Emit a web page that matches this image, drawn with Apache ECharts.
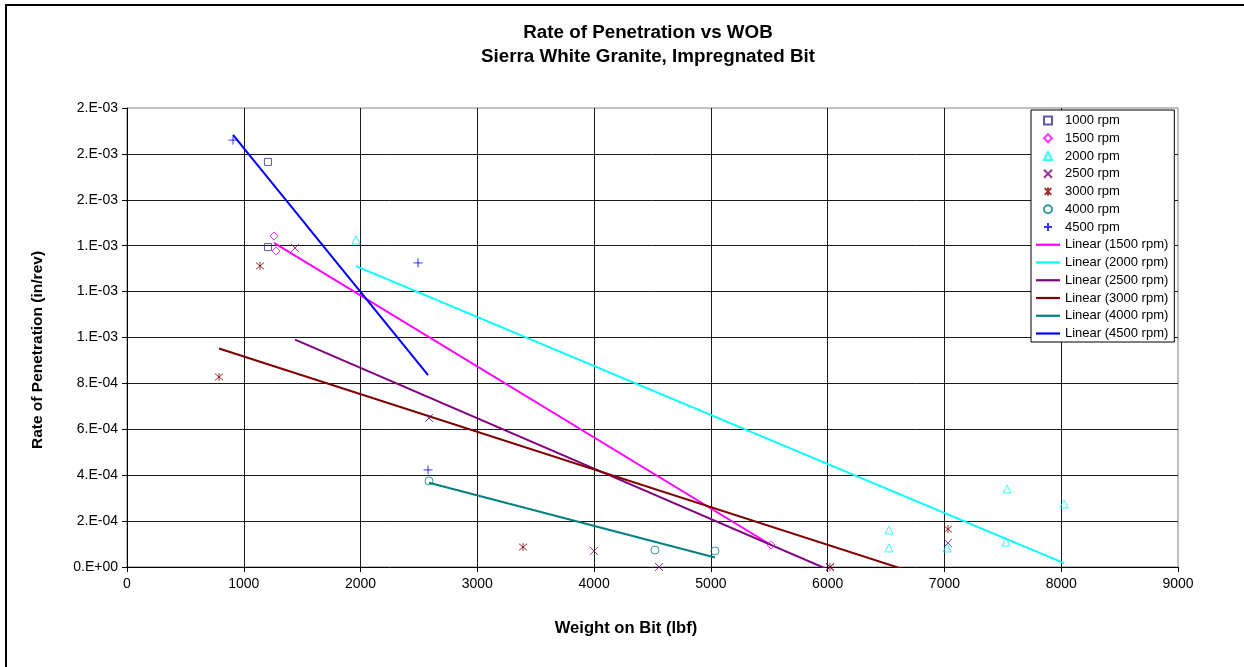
<!DOCTYPE html>
<html>
<head>
<meta charset="utf-8">
<title>Rate of Penetration vs WOB</title>
<script src="https://cdn.jsdelivr.net/npm/echarts@6/dist/echarts.min.js"></script>
<style>
	html, body { margin: 0; padding: 0; background: #fff; }
	#rop_chart { width: 1244px; height: 667px; }
</style>
</head>
<body>
<div id="rop_chart"></div>
<script>
// 原始数据：钻压 (lbf) / 钻速 (in/rev)，按转速分组
var wob1000 = [1207, 1207];
var rop1000 = [0.001765, 0.001394];
var wob1500 = [1259, 1276, 5515];
var rop1500 = [0.001442, 0.001377, 0.000096];
var wob2000 = [1961, 6525, 6525, 7536, 8024, 7022, 7527];
var rop2000 = [0.001425, 0.000161, 0.000083, 0.000340, 0.000275, 0.000083, 0.000109];
var wob2500 = [1439, 2586, 3999, 4556, 6020, 7030];
var rop2500 = [0.001390, 0.000649, 0.000070, 0, 0, 0.000105];
var wob3000 = [788, 1139, 3391, 6020, 7030];
var rop3000 = [0.000828, 0.001312, 0.000087, 0, 0.000165];
var wob4000 = [2586, 4521, 5035];
var rop4000 = [0.000375, 0.000074, 0.000070];
var wob4500 = [908, 2492, 2578];
var rop4500 = [0.001860, 0.001325, 0.000423];

var xTicks = [0, 1000, 2000, 3000, 4000, 5000, 6000, 7000, 8000, 9000];

var font = "'Liberation Sans', Arial, sans-serif";

//标记形状
var SQUARE = 'path://M0 0L10 0L10 10L0 10Z';
var DIAMOND = 'path://M5 0L10 5L5 10L0 5Z';
var TRIANGLE = 'path://M5 0L10 10L0 10Z';
var CROSS = 'path://M0 0L10 10M10 0L0 10';
var STAR = 'path://M0 0L10 10M10 0L0 10M5 -1L5 11';
var PLUS = 'path://M5 0L5 10M0 5L10 5';
var LINE_ICON = 'path://M0 0L26 0L26 2.4L0 2.4Z';

//组合成 [x, y]
function pairs(xs, ys) {
	var out = [];
	for (var i = 0; i < xs.length; i++) {
		out.push([xs[i], ys[i]]);
	}
	return out;
}

//最小二乘线性趋势线 (同 Excel Linear trendline)
function trend(xs, ys) {
	var n = xs.length, mx = 0, my = 0;
	for (var i = 0; i < n; i++) { mx += xs[i]; my += ys[i]; }
	mx = mx / n; my = my / n;
	var sxy = 0, sxx = 0;
	for (var i = 0; i < n; i++) {
		sxy += (xs[i] - mx) * (ys[i] - my);
		sxx += (xs[i] - mx) * (xs[i] - mx);
	}
	var b = sxy / sxx, a = my - b * mx;
	var x0 = Math.min.apply(null, xs), x1 = Math.max.apply(null, xs);
	return [[x0, a + b * x0], [x1, a + b * x1]];
}

//Excel 0.E+00 格式
function sci(v) {
	if (Math.abs(v) < 1e-12) return '0.E+00';
	var s = v.toExponential(0).split('e');
	var exp = parseInt(s[1], 10);
	var sign = exp < 0 ? '-' : '+';
	exp = Math.abs(exp);
	return s[0] + '.E' + sign + (exp < 10 ? '0' + exp : exp);
}

function pointSeries(name, xs, ys, symbol, size, color) {
	return {
		name: name,
		type: 'scatter',
		data: pairs(xs, ys),
		symbol: symbol,
		symbolSize: size,
		itemStyle: { color: 'none', borderColor: color, borderWidth: 1 },
		z: 3
	};
}

function lineSeries(name, xs, ys, color) {
	return {
		name: name,
		type: 'line',
		data: trend(xs, ys),
		symbol: 'none',
		lineStyle: { color: color, width: 2 },
		itemStyle: { color: color },
		clip: true,
		z: 2
	};
}

var myChart = echarts.init(document.getElementById('rop_chart'));

var option = {
	animation: false,
	backgroundColor: '#fff',
	graphic: [
		{ type: 'rect', shape: { x: 6, y: 5, width: 1300, height: 700 },
		  style: { fill: 'none', stroke: '#000', lineWidth: 2 }, silent: true },
		{ type: 'text', x: 648, y: 33,
		  style: { text: 'Rate of Penetration vs WOB', fill: '#000', font: 'bold 18.8px ' + font, align: 'center', verticalAlign: 'middle' } },
		{ type: 'text', x: 648, y: 57,
		  style: { text: 'Sierra White Granite, Impregnated Bit', fill: '#000', font: 'bold 18.8px ' + font, align: 'center', verticalAlign: 'middle' } },
		{ type: 'text', x: 626, y: 628,
		  style: { text: 'Weight on Bit (lbf)', fill: '#000', font: 'bold 16.6px ' + font, align: 'center', verticalAlign: 'middle' } },
		{ type: 'text', x: 38, y: 350, rotation: Math.PI / 2,
		  style: { text: 'Rate of Penetration (in/rev)', fill: '#000', font: 'bold 15.5px ' + font, align: 'center', verticalAlign: 'middle' } }
	],
	grid: {
		left: 127, top: 108, right: 66, bottom: 100,
		show: true, borderColor: '#808080', borderWidth: 1, backgroundColor: '#fff'
	},
	legend: {
		orient: 'vertical',
		left: 1031, top: 110,
		backgroundColor: '#fff',
		borderColor: '#000', borderWidth: 1,
		padding: [4, 6, 2, 5],
		itemWidth: 24, itemHeight: 8, itemGap: 4.75,
		textStyle: { fontSize: 13, color: '#000', fontFamily: font },
		data: [
			{ name: '1000 rpm', icon: SQUARE },
			{ name: '1500 rpm', icon: DIAMOND },
			{ name: '2000 rpm', icon: TRIANGLE },
			{ name: '2500 rpm', icon: CROSS },
			{ name: '3000 rpm', icon: STAR },
			{ name: '4000 rpm', icon: 'circle' },
			{ name: '4500 rpm', icon: PLUS },
			{ name: 'Linear (1500 rpm)', icon: LINE_ICON },
			{ name: 'Linear (2000 rpm)', icon: LINE_ICON },
			{ name: 'Linear (2500 rpm)', icon: LINE_ICON },
			{ name: 'Linear (3000 rpm)', icon: LINE_ICON },
			{ name: 'Linear (4000 rpm)', icon: LINE_ICON },
			{ name: 'Linear (4500 rpm)', icon: LINE_ICON }
		]
	},
	xAxis: {
		type: 'value',
		min: xTicks[0], max: xTicks[xTicks.length - 1], interval: 1000,
		axisLine: { show: true, onZero: false, lineStyle: { color: '#000', width: 1 } },
		axisTick: { show: true, inside: false, length: 5, lineStyle: { color: '#000' } },
		axisLabel: { color: '#000', fontSize: 14, fontFamily: font, margin: 10,
			formatter: function(v) { return String(v); } },
		splitLine: { show: true, showMinLine: false, showMaxLine: false, lineStyle: { color: '#1a1a1a', width: 1 } }
	},
	yAxis: {
		type: 'value',
		min: 0, max: 0.002, interval: 0.0002,
		axisLine: { show: true, onZero: false, lineStyle: { color: '#000', width: 1 } },
		axisTick: { show: true, inside: false, length: 5, lineStyle: { color: '#000' } },
		axisLabel: { color: '#000', fontSize: 14, fontFamily: font, margin: 9, formatter: sci },
		splitLine: { show: true, showMinLine: false, showMaxLine: false, lineStyle: { color: '#1a1a1a', width: 1 } }
	},
	series: [
		pointSeries('1000 rpm', wob1000, rop1000, SQUARE, 7, '#333399'),
		pointSeries('1500 rpm', wob1500, rop1500, DIAMOND, 8, '#FF00FF'),
		pointSeries('2000 rpm', wob2000, rop2000, TRIANGLE, 8, '#00FFFF'),
		pointSeries('2500 rpm', wob2500, rop2500, CROSS, 8, '#800080'),
		pointSeries('3000 rpm', wob3000, rop3000, STAR, 8, '#800000'),
		pointSeries('4000 rpm', wob4000, rop4000, 'circle', 8, '#008080'),
		pointSeries('4500 rpm', wob4500, rop4500, PLUS, 9, '#0000FF'),
		lineSeries('Linear (1500 rpm)', wob1500, rop1500, '#FF00FF'),
		lineSeries('Linear (2000 rpm)', wob2000, rop2000, '#00FFFF'),
		lineSeries('Linear (2500 rpm)', wob2500, rop2500, '#800080'),
		lineSeries('Linear (3000 rpm)', wob3000, rop3000, '#800000'),
		lineSeries('Linear (4000 rpm)', wob4000, rop4000, '#008080'),
		lineSeries('Linear (4500 rpm)', wob4500, rop4500, '#0000FF')
	]
};
myChart.setOption(option);
</script>
</body>
</html>
